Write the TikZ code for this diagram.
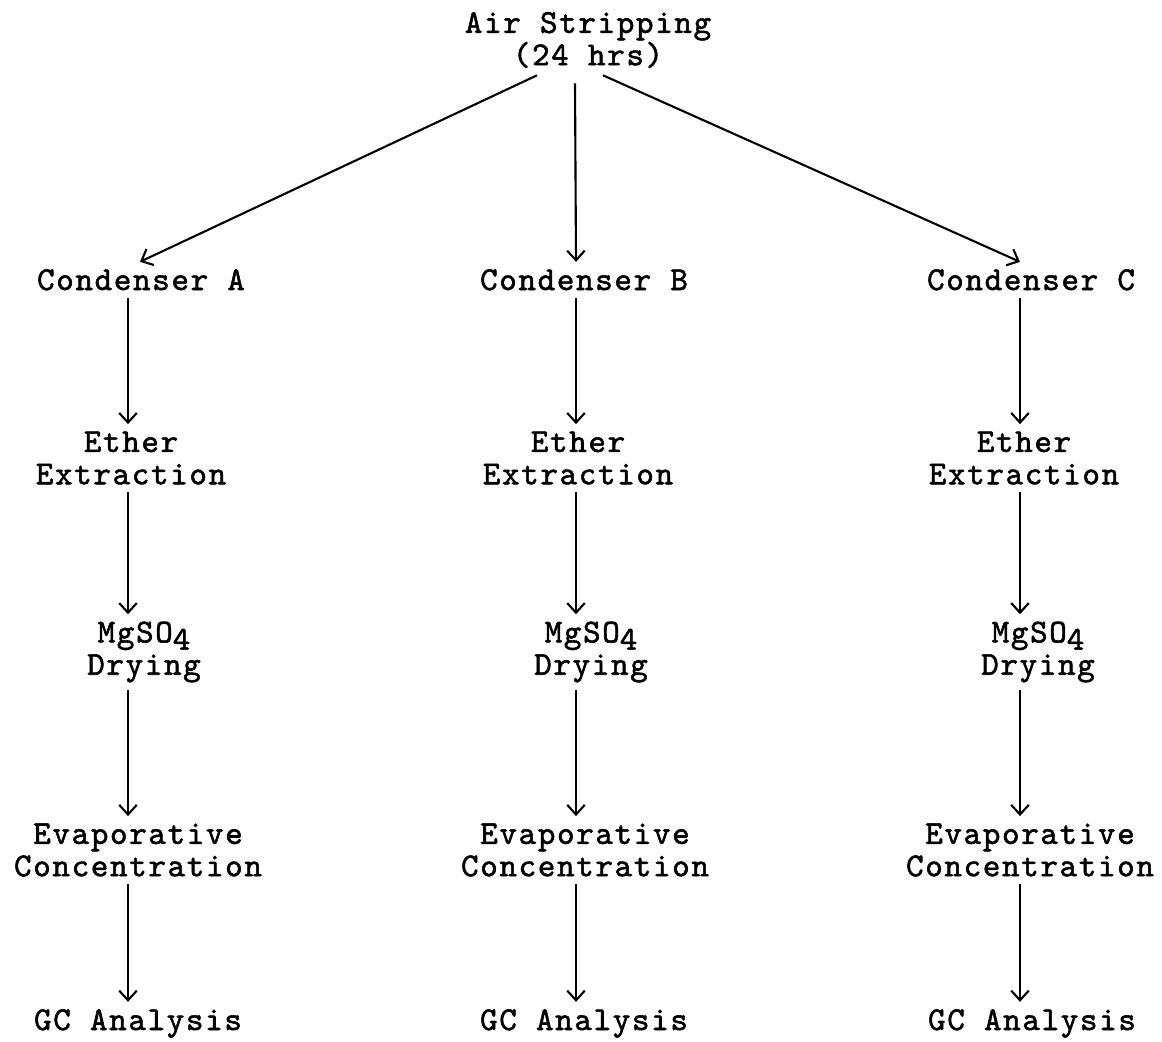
\documentclass[tikz,border=0pt]{standalone}
\usepackage{fontspec}
\usepackage{tikz}
\usetikzlibrary{positioning}
\usetikzlibrary{arrows.meta}

\newfontfamily\typewriter{lmmono10-regular.otf}[LetterSpace=5,FakeBold=1.6]

\begin{document}
\begin{tikzpicture}[
x=0.02cm, y=-0.02cm,
stepnode/.style={rectangle, align=center, inner xsep=2pt, inner ysep=4pt, font=\fontsize{19}{18.4}\selectfont\typewriter},
flow/.style={-{Straight Barb[length=5.5pt,width=10pt]}, line width=1.2pt},
]
\useasboundingbox (0,0) rectangle (1162,1041);
%Columns
\coordinate (colA) at (128,0);
\coordinate (colB) at (576,0);
\coordinate (colC) at (1020,0);

%Nodes
\node[stepnode] (air)   at (588,40)   {Air Stripping\\(24 hrs)};

\node[stepnode, anchor=base] (condA) at (141,290)  {Condenser A};
\node[stepnode, anchor=base] (condB) at (584,290)  {Condenser B};
\node[stepnode, anchor=base] (condC) at (1031,290) {Condenser C};

\node[stepnode] (ethA)  at (131,458)  {Ether\\Extraction};
\node[stepnode] (ethB)  at (578,458)  {Ether\\Extraction};
\node[stepnode] (ethC)  at (1024,458) {Ether\\Extraction};

\node[stepnode] (dryA)  at (144,652)  {MgSO\raisebox{-0.5ex}{4}\\Drying};
\node[stepnode] (dryB)  at (591,652)  {MgSO\raisebox{-0.5ex}{4}\\Drying};
\node[stepnode] (dryC)  at (1038,652) {MgSO\raisebox{-0.5ex}{4}\\Drying};

\node[stepnode] (evaA)  at (138,850)  {Evaporative\\Concentration};
\node[stepnode] (evaB)  at (585,850)  {Evaporative\\Concentration};
\node[stepnode] (evaC)  at (1030,850) {Evaporative\\Concentration};

\node[stepnode, anchor=base] (gcA) at (138,1030)  {GC Analysis};
\node[stepnode, anchor=base] (gcB) at (584,1030)  {GC Analysis};
\node[stepnode, anchor=base] (gcC) at (1032,1030) {GC Analysis};

%Lines
\draw[flow] ([shift={(-51,0)}]air.south)  -- ([shift={(-1,0)}]condA.north);
\draw[flow] ([shift={(-13,8)}]air.south)  -- (condB.north -| colB);
\draw[flow] ([shift={(15,0)}]air.south)   -- (condC.north -| colC);

\foreach \c in {A,B,C}{
  \draw[flow] (cond\c.south -| col\c) -- (eth\c.north -| col\c);
  \draw[flow] (eth\c.south -| col\c)  -- (dry\c.north -| col\c);
  \draw[flow] (dry\c.south -| col\c)  -- (eva\c.north -| col\c);
  \draw[flow] (eva\c.south -| col\c)  -- (gc\c.north -| col\c);
}
\end{tikzpicture}
\end{document}
